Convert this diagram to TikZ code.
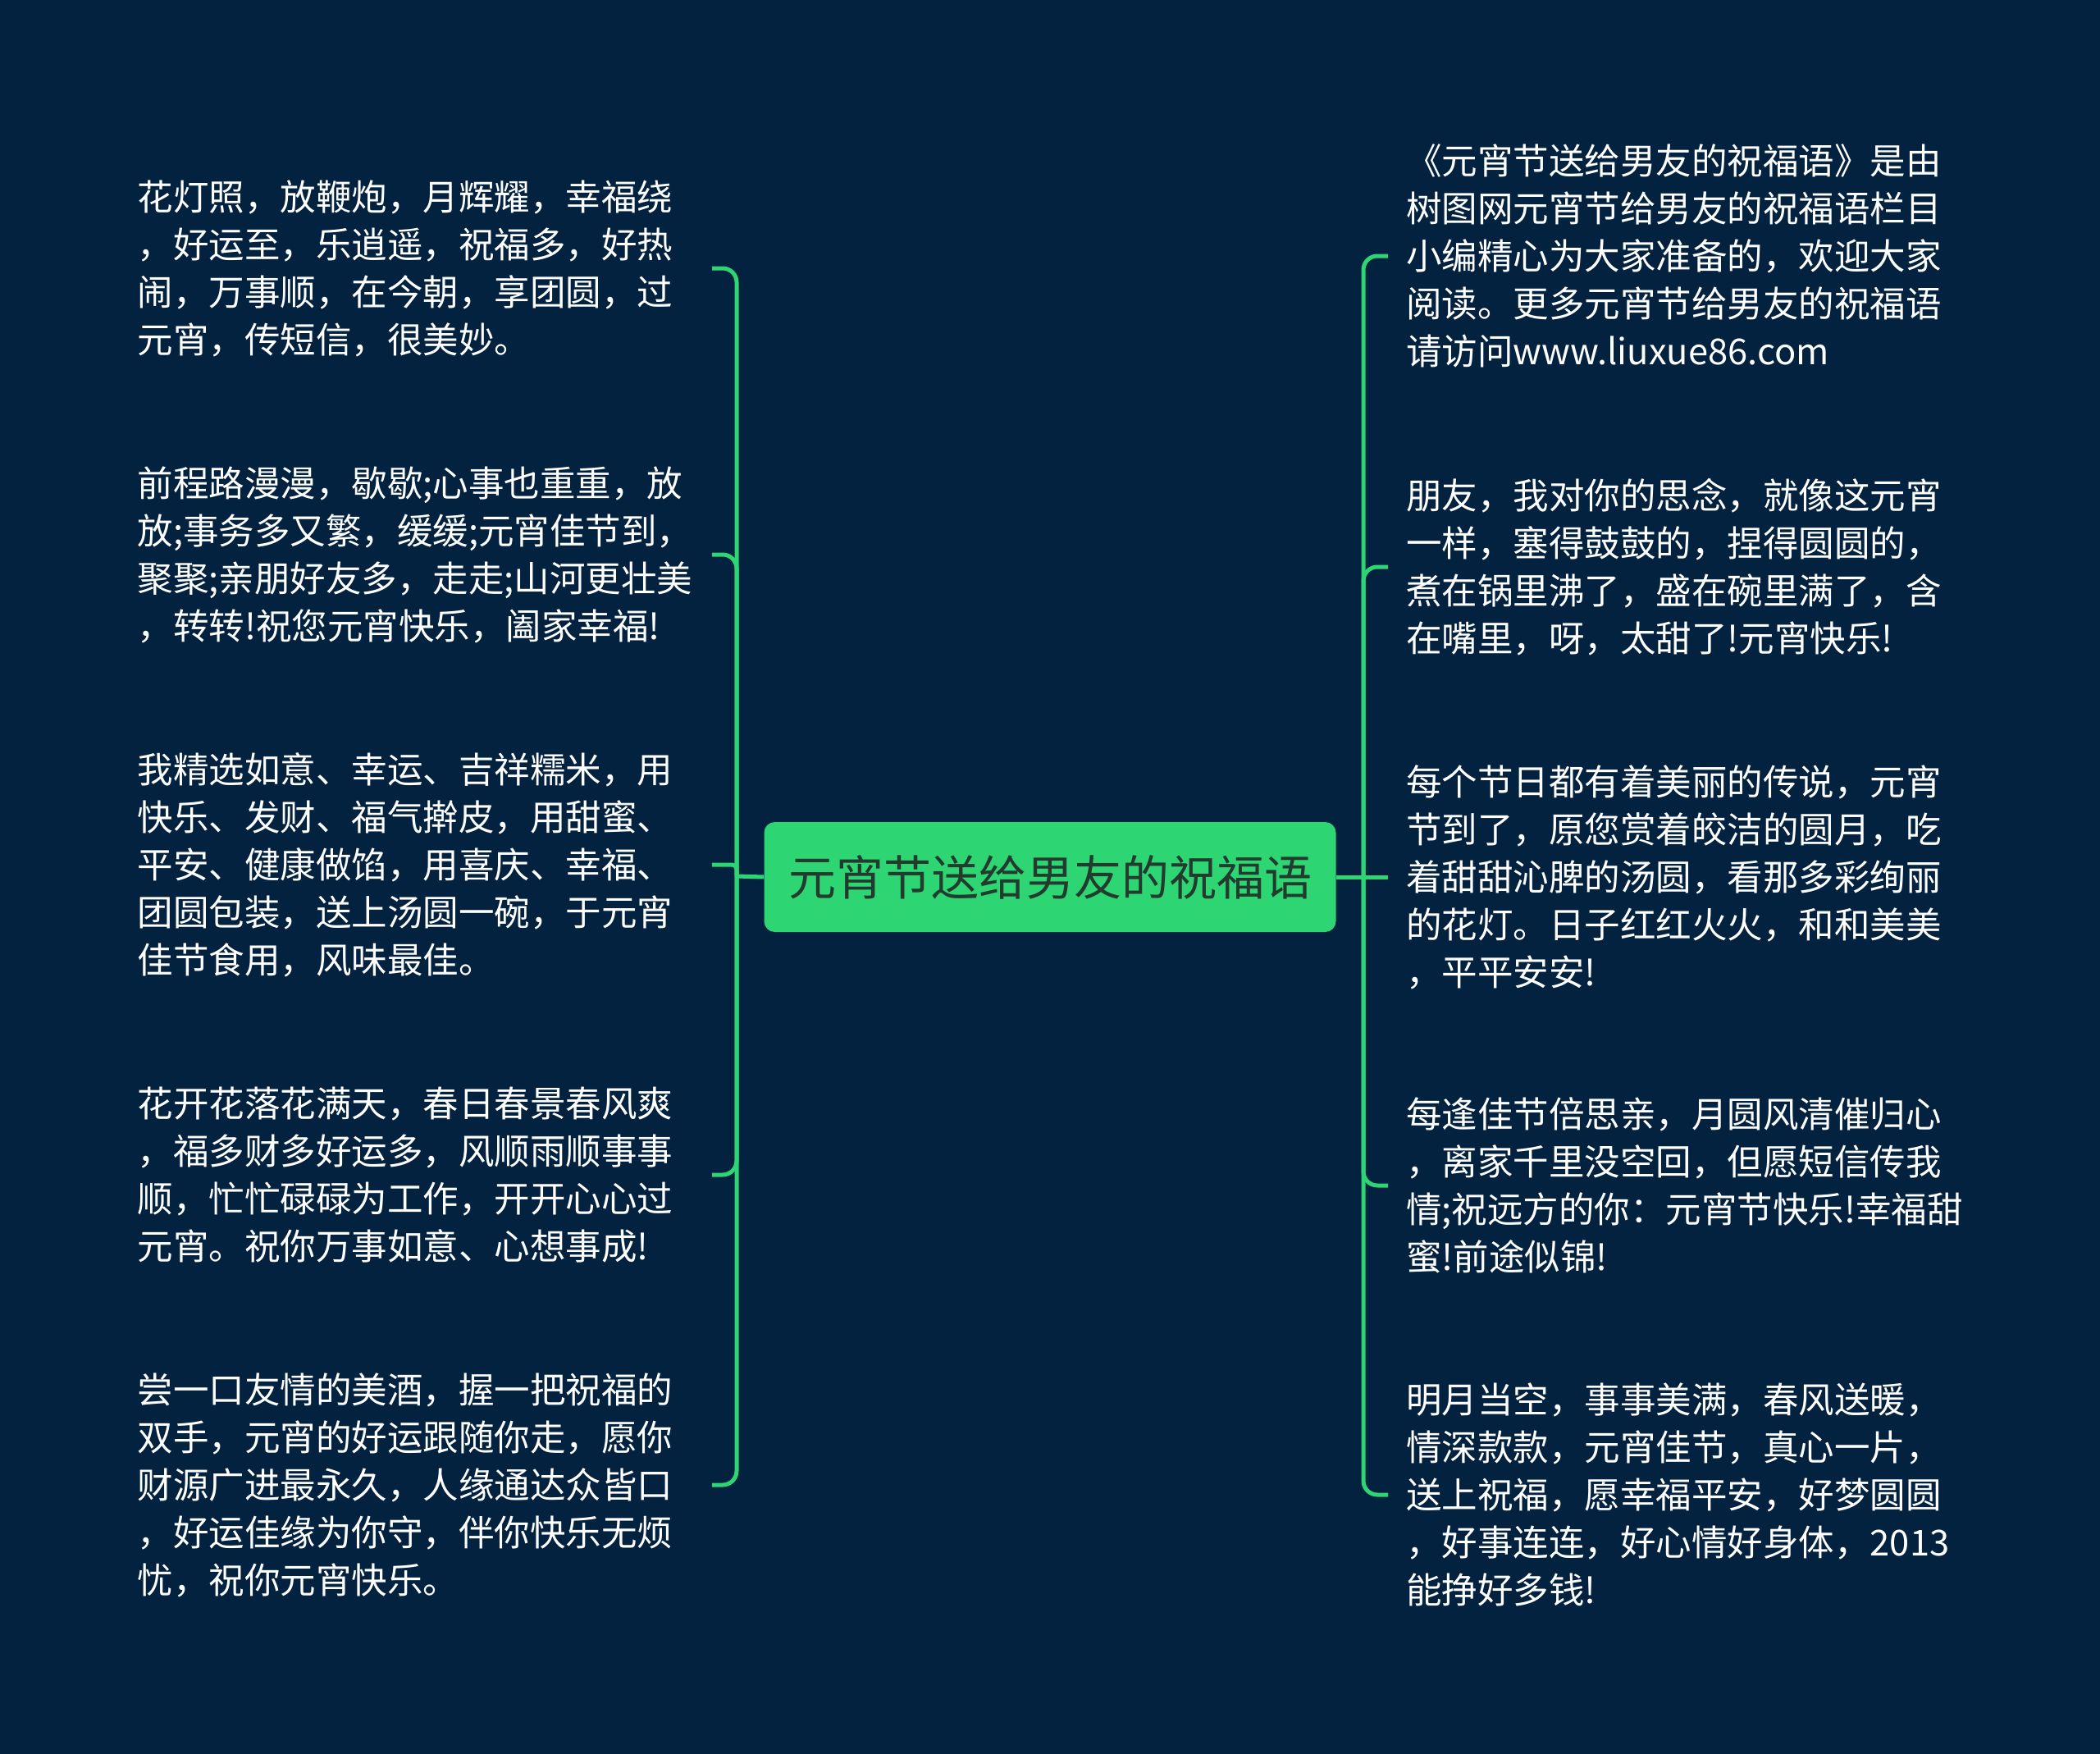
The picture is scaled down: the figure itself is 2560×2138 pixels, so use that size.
\documentclass[tikz,border=0pt]{standalone}
\usepackage{fontspec}
\newfontfamily\cjk{Noto Sans CJK SC}
\definecolor{bg}{HTML}{022240}
\definecolor{mmgreen}{HTML}{2ED573}
\definecolor{roottext}{HTML}{223B2E}
\begin{document}
\begin{tikzpicture}[x=1pt,y=-1pt,
  leftleaf/.style={anchor=east, inner sep=0pt, text width=700pt, align=left, text=white, font=\cjk\fontsize{43.5pt}{58pt}\selectfont},
  rightleaf/.style={anchor=west, inner xsep=22pt, inner ysep=0pt, text width=780pt, align=left, text=white, font=\cjk\fontsize{43.5pt}{58pt}\selectfont},
  rootbox/.style={rectangle, rounded corners=13pt, fill=mmgreen, minimum width=697pt, minimum height=134pt, inner sep=0pt, text=roottext, font=\cjk\fontsize{58pt}{66pt}\selectfont},
  conn/.style={draw=mmgreen, line width=5pt}
]
\useasboundingbox[fill=bg] (0,0) rectangle (2560,2138);

\node[rootbox] (root) at (1280,1069) {元宵节送给男友的祝福语};

\node[leftleaf] (l1) at (868,327) {花灯照，放鞭炮，月辉耀，幸福绕\\，好运至，乐逍遥，祝福多，好热\\闹，万事顺，在今朝，享团圆，过\\元宵，传短信，很美妙。};
\node[leftleaf] (l2) at (868,676) {前程路漫漫，歇歇;心事也重重，放\\放;事务多又繁，缓缓;元宵佳节到，\\聚聚;亲朋好友多，走走;山河更壮美\\，转转!祝您元宵快乐，阖家幸福!};
\node[leftleaf] (l3) at (868,1054) {我精选如意、幸运、吉祥糯米，用\\快乐、发财、福气擀皮，用甜蜜、\\平安、健康做馅，用喜庆、幸福、\\团圆包装，送上汤圆一碗，于元宵\\佳节食用，风味最佳。};
\node[leftleaf] (l4) at (868,1432) {花开花落花满天，春日春景春风爽\\，福多财多好运多，风顺雨顺事事\\顺，忙忙碌碌为工作，开开心心过\\元宵。祝你万事如意、心想事成!};
\node[leftleaf] (l5) at (868,1810) {尝一口友情的美酒，握一把祝福的\\双手，元宵的好运跟随你走，愿你\\财源广进最永久，人缘通达众皆口\\，好运佳缘为你守，伴你快乐无烦\\忧，祝你元宵快乐。};

\node[rightleaf] (r1) at (1692,312) {《元宵节送给男友的祝福语》是由\\树图网元宵节给男友的祝福语栏目\\小编精心为大家准备的，欢迎大家\\阅读。更多元宵节给男友的祝福语\\请访问www.liuxue86.com};
\node[rightleaf] (r2) at (1692,691) {朋友，我对你的思念，就像这元宵\\一样，塞得鼓鼓的，捏得圆圆的，\\煮在锅里沸了，盛在碗里满了，含\\在嘴里，呀，太甜了!元宵快乐!};
\node[rightleaf] (r3) at (1692,1069) {每个节日都有着美丽的传说，元宵\\节到了，原您赏着皎洁的圆月，吃\\着甜甜沁脾的汤圆，看那多彩绚丽\\的花灯。日子红红火火，和和美美\\，平平安安!};
\node[rightleaf] (r4) at (1692,1445) {每逢佳节倍思亲，月圆风清催归心\\，离家千里没空回，但愿短信传我\\情;祝远方的你：元宵节快乐!幸福甜\\蜜!前途似锦!};
\node[rightleaf] (r5) at (1692,1822) {明月当空，事事美满，春风送暖，\\情深款款，元宵佳节，真心一片，\\送上祝福，愿幸福平安，好梦圆圆\\，好事连连，好心情好身体，2013\\能挣好多钱!};

\coordinate (LJ) at (898,1068);
\coordinate (RJ) at (1662,1069);

\draw[conn] (root.west) -- (LJ);
\draw[conn] (root.east) -- (RJ);

\draw[conn, rounded corners=17pt] (LJ) -- (LJ |- l1.east) -- (l1.east);
\draw[conn, rounded corners=17pt] (LJ) -- (LJ |- l2.east) -- (l2.east);
\draw[conn, rounded corners=6pt] (LJ) -- (LJ |- l3.east) -- (l3.east);
\draw[conn, rounded corners=17pt] (LJ) -- (LJ |- l4.east) -- (l4.east);
\draw[conn, rounded corners=17pt] (LJ) -- (LJ |- l5.east) -- (l5.east);

\draw[conn, rounded corners=17pt] (RJ) -- (RJ |- r1.west) -- (r1.west);
\draw[conn, rounded corners=17pt] (RJ) -- (RJ |- r2.west) -- (r2.west);
\draw[conn] (RJ) -- (r3.west);
\draw[conn, rounded corners=17pt] (RJ) -- (RJ |- r4.west) -- (r4.west);
\draw[conn, rounded corners=17pt] (RJ) -- (RJ |- r5.west) -- (r5.west);
\end{tikzpicture}
\end{document}
